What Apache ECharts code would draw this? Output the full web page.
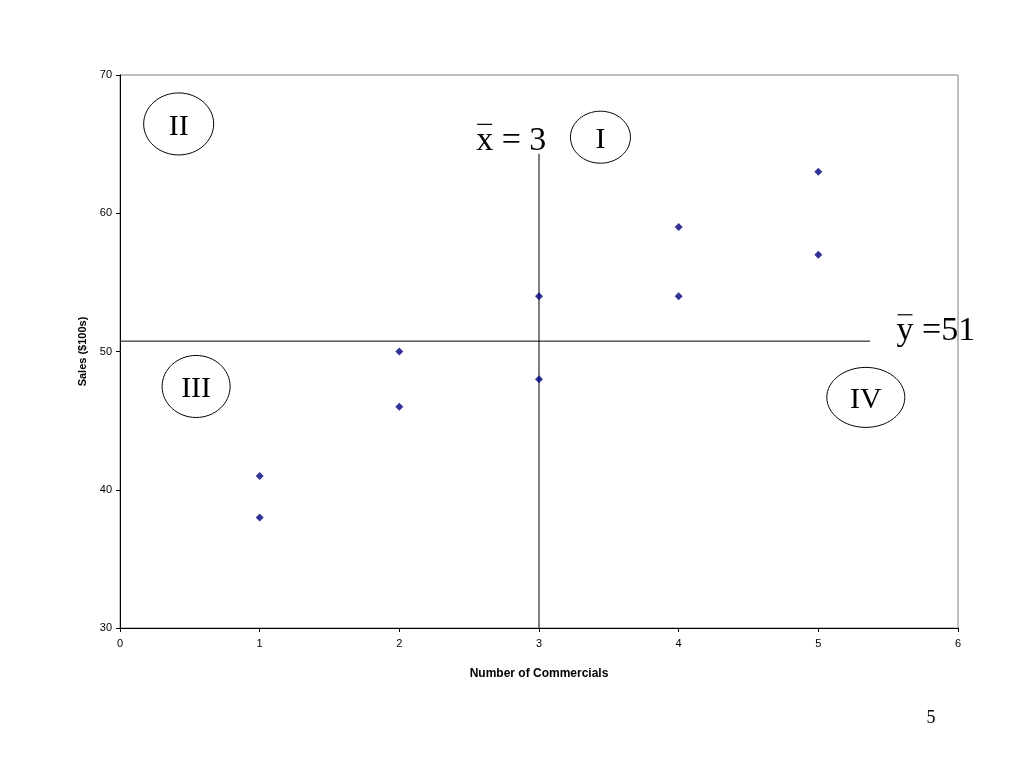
<!DOCTYPE html>
<html><head><meta charset="utf-8">
<script src="https://cdn.jsdelivr.net/npm/echarts@6/dist/echarts.min.js"></script>
<style>html,body{margin:0;padding:0;background:#fff}#c{width:1024px;height:768px}</style>
</head><body><div id="c"></div>
<script>
const commercials = [1, 1, 2, 2, 3, 3, 4, 4, 5, 5];
const sales = [41, 38, 50, 46, 54, 48, 59, 54, 63, 57];
const xMeanLine = [[3, 64.3], [3, 30]];
const yMeanLine = [[0, 50.75], [5.37, 50.75]];
const quadrantLabels = ['I', 'II', 'III', 'IV'];
const quadrantCenters = [[3.44, 65.5], [0.42, 66.46], [0.545, 47.47], [5.34, 46.68]];
const quadrantRadii = [[30, 26], [35, 31], [34, 31], [39, 30]];
const xMeanText = 'x = 3';
const yMeanText = 'y =51';
const pageNumber = '5';

const chart = echarts.init(document.getElementById('c'));
const axisLabelStyle = {color: '#000', fontFamily: 'Liberation Sans, Arial', fontSize: 11};
chart.setOption({
  animation: false,
  grid: {left: 120, right: 66, top: 75, bottom: 140, show: true, borderColor: '#808080', borderWidth: 1},
  xAxis: {
    type: 'value', min: 0, max: 6, interval: 1,
    name: 'Number of Commercials', nameLocation: 'middle', nameGap: 40,
    nameTextStyle: {color: '#000', fontFamily: 'Liberation Sans, Arial', fontSize: 12, fontWeight: 'bold'},
    axisLine: {lineStyle: {color: '#000', width: 1}},
    axisTick: {show: true, length: 4, lineStyle: {color: '#000'}},
    axisLabel: Object.assign({margin: 10}, axisLabelStyle),
    splitLine: {show: false}
  },
  yAxis: {
    type: 'value', min: 30, max: 70, interval: 10,
    name: 'Sales ($100s)', nameLocation: 'middle', nameGap: 32,
    nameTextStyle: {color: '#000', fontFamily: 'Liberation Sans, Arial', fontSize: 11, fontWeight: 'bold'},
    axisLine: {show: true, lineStyle: {color: '#000', width: 1}},
    axisTick: {show: true, length: 4, lineStyle: {color: '#000'}},
    axisLabel: Object.assign({margin: 8}, axisLabelStyle),
    splitLine: {show: false}
  },
  series: [
    {type: 'scatter', data: commercials.map((c, i) => [c, sales[i]]), symbol: 'diamond', symbolSize: 8,
     itemStyle: {color: '#000080'}, z: 5},
    {type: 'line', data: xMeanLine, symbol: 'none', lineStyle: {color: '#000', width: 1}, z: 3},
    {type: 'line', data: yMeanLine, symbol: 'none', lineStyle: {color: '#000', width: 1}, z: 3}
  ]
});

const els = [];
quadrantLabels.forEach((lab, i) => {
  const p = chart.convertToPixel({gridIndex: 0}, quadrantCenters[i]);
  els.push({type: 'ellipse', shape: {cx: p[0], cy: p[1], rx: quadrantRadii[i][0], ry: quadrantRadii[i][1]},
    style: {fill: 'none', stroke: '#000', lineWidth: 1}});
  els.push({type: 'text', x: p[0], y: p[1] + 3, style: {text: lab, fill: '#000', font: '30px "Liberation Serif", "Times New Roman", serif', align: 'center', verticalAlign: 'middle'}});
});
const xp = chart.convertToPixel({gridIndex: 0}, [2.55, 65.2]);
els.push({type: 'text', x: xp[0], y: xp[1], style: {text: xMeanText, fill: '#000', font: '34px "Liberation Serif", "Times New Roman", serif', align: 'left', verticalAlign: 'middle'}});
els.push({type: 'line', shape: {x1: xp[0] + 1, y1: xp[1] - 17, x2: xp[0] + 16, y2: xp[1] - 17}, style: {stroke: '#000', lineWidth: 1.2}});
const yp = chart.convertToPixel({gridIndex: 0}, [5.56, 51.5]);
els.push({type: 'text', x: yp[0], y: yp[1], style: {text: yMeanText, fill: '#000', font: '34px "Liberation Serif", "Times New Roman", serif', align: 'left', verticalAlign: 'middle'}});
els.push({type: 'line', shape: {x1: yp[0] + 1, y1: yp[1] - 16, x2: yp[0] + 16, y2: yp[1] - 16}, style: {stroke: '#000', lineWidth: 1.2}});
els.push({type: 'text', x: 931, y: 718, style: {text: pageNumber, fill: '#000', font: '18px "Liberation Serif", "Times New Roman", serif', align: 'center', verticalAlign: 'middle'}});
chart.setOption({graphic: els});
</script></body></html>
